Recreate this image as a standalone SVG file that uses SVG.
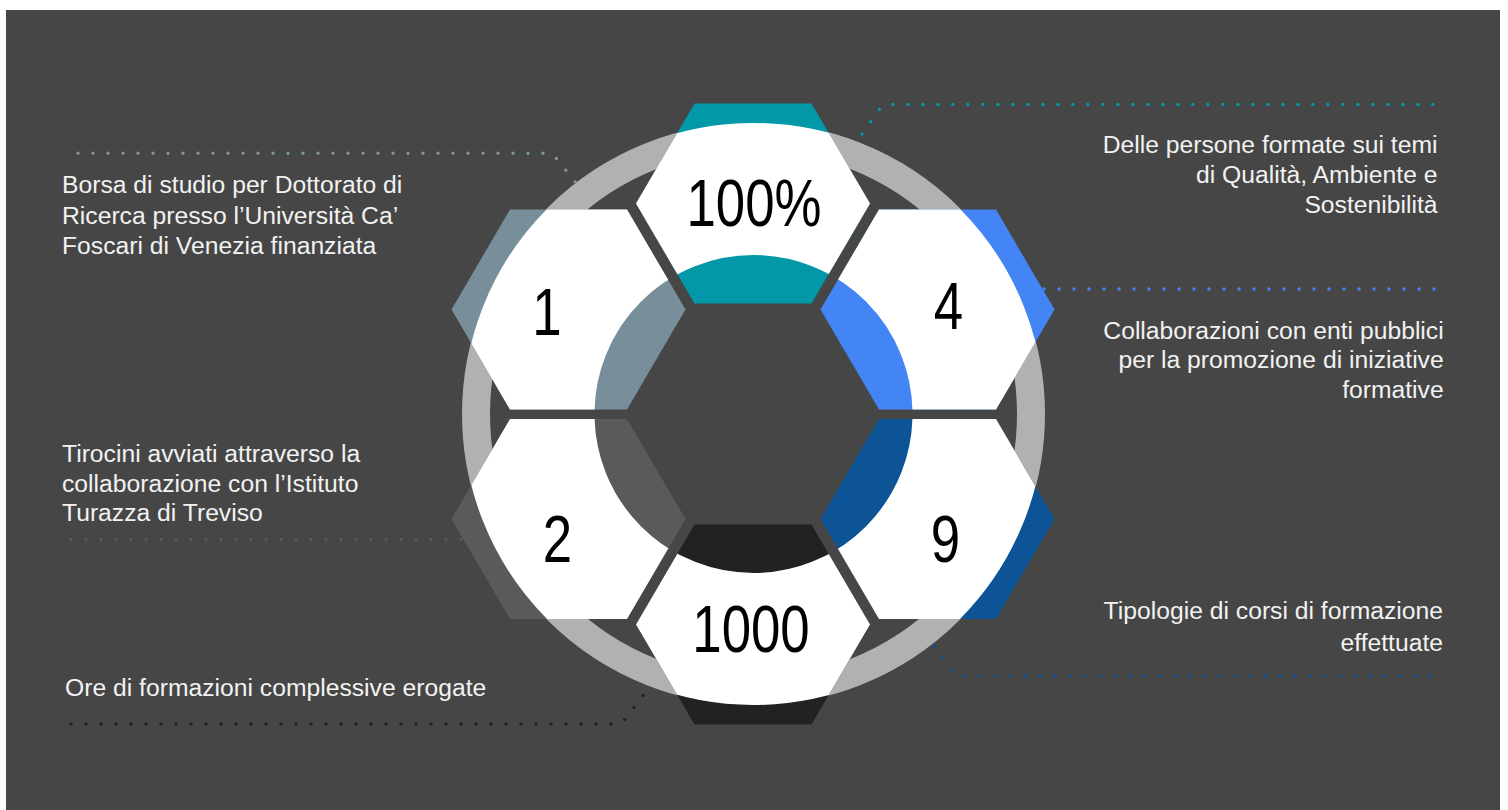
<svg xmlns="http://www.w3.org/2000/svg" xmlns:xlink="http://www.w3.org/1999/xlink" width="1508" height="810" viewBox="0 0 1508 810">
<style>
.lbl{font-family:"Liberation Sans",Arial,sans-serif;font-size:24.7px;fill:#f2f2f2}
.r{text-anchor:end}
.num{font-family:"Liberation Sans",Arial,sans-serif;font-size:66px;fill:#000;text-anchor:middle}
.dot{fill:none;stroke-width:3.4;stroke-linecap:round;stroke-dasharray:0 15}
.band{fill:none;stroke:#ffffff;stroke-width:132}
</style>
<defs>
<polygon id="hx-top" points="636,203.5 694.5,103.5 811.5,103.5 870,203.5 811.5,303.5 694.5,303.5"/>
<polygon id="hx-ul" points="451.5,309.5 510,209.5 627,209.5 685.5,309.5 627,409.5 510,409.5"/>
<polygon id="hx-ur" points="820.5,309.5 879,209.5 996,209.5 1054.5,309.5 996,409.5 879,409.5"/>
<polygon id="hx-ll" points="451.5,519 510,419 627,419 685.5,519 627,619 510,619"/>
<polygon id="hx-lr" points="820.5,519 879,419 996,419 1054.5,519 996,619 879,619"/>
<polygon id="hx-bot" points="636,624.5 694.5,524.5 811.5,524.5 870,624.5 811.5,724.5 694.5,724.5"/>
<clipPath id="c-top"><use xlink:href="#hx-top"/></clipPath>
<clipPath id="c-ul"><use xlink:href="#hx-ul"/></clipPath>
<clipPath id="c-ur"><use xlink:href="#hx-ur"/></clipPath>
<clipPath id="c-ll"><use xlink:href="#hx-ll"/></clipPath>
<clipPath id="c-lr"><use xlink:href="#hx-lr"/></clipPath>
<clipPath id="c-bot"><use xlink:href="#hx-bot"/></clipPath>
</defs>
<rect x="0" y="0" width="1508" height="810" fill="#ffffff"/>
<rect x="6" y="10" width="1494" height="800" fill="#464646"/>
<circle id="ring" cx="753.5" cy="414" r="277.5" fill="none" stroke="#b1b1b1" stroke-width="28"/>
<g id="connectors">
<path class="dot" stroke="#7a96a3" d="M78,153.3 L546,153.3 Q552,153.3 556,158 L577,184"/>
<path class="dot" stroke="#0398a8" d="M862,134 L879,110 Q883,104.5 890,104.5 L1436,104.5"/>
<path class="dot" stroke="#4385f5" d="M1044,289 L1436,289"/>
<path class="dot" stroke="#5a5a5a" d="M71,539.5 L465,539.5"/>
<path class="dot" stroke="#222222" d="M71,724 L614,724 Q621,724 626,718 L644,694"/>
<path class="dot" stroke="#0d5496" d="M934,646 L951,669 Q956,676 963,676 L1436,676"/>
</g>
<g id="node-100">
<use xlink:href="#hx-top" fill="#0398a8"/>
<circle class="band" cx="753.5" cy="414" r="225" clip-path="url(#c-top)"/>
<text class="num" transform="translate(754,226) scale(0.8,1)">100%</text>
</g>
<g id="node-1">
<use xlink:href="#hx-ul" fill="#788f9b"/>
<circle class="band" cx="753.5" cy="414" r="225" clip-path="url(#c-ul)"/>
<text class="num" transform="translate(547,335) scale(0.8,1)">1</text>
</g>
<g id="node-4">
<use xlink:href="#hx-ur" fill="#4385f5"/>
<circle class="band" cx="753.5" cy="414" r="225" clip-path="url(#c-ur)"/>
<text class="num" transform="translate(948.5,329) scale(0.8,1)">4</text>
</g>
<g id="node-2">
<use xlink:href="#hx-ll" fill="#5a5a5a"/>
<circle class="band" cx="753.5" cy="414" r="225" clip-path="url(#c-ll)"/>
<text class="num" transform="translate(557.5,562) scale(0.8,1)">2</text>
</g>
<g id="node-9">
<use xlink:href="#hx-lr" fill="#0d5496"/>
<circle class="band" cx="753.5" cy="414" r="225" clip-path="url(#c-lr)"/>
<text class="num" transform="translate(945.5,562) scale(0.8,1)">9</text>
</g>
<g id="node-1000">
<use xlink:href="#hx-bot" fill="#222222"/>
<circle class="band" cx="753.5" cy="414" r="225" clip-path="url(#c-bot)"/>
<text class="num" transform="translate(751,652) scale(0.8,1)">1000</text>
</g>
<g id="label-borsa">
<text class="lbl" x="62" y="193">Borsa di studio per Dottorato di</text>
<text class="lbl" x="62" y="223.5">Ricerca presso l’Università Ca’</text>
<text class="lbl" x="62" y="253.5">Foscari di Venezia finanziata</text>
</g>
<g id="label-tirocini">
<text class="lbl" x="62" y="462.3">Tirocini avviati attraverso la</text>
<text class="lbl" x="62" y="491.7">collaborazione con l’Istituto</text>
<text class="lbl" x="62" y="521">Turazza di Treviso</text>
</g>
<g id="label-ore">
<text class="lbl" x="65" y="696">Ore di formazioni complessive erogate</text>
</g>
<g id="label-persone">
<text class="lbl r" x="1437.5" y="153.3">Delle persone formate sui temi</text>
<text class="lbl r" x="1437.5" y="183.3">di Qualità, Ambiente e</text>
<text class="lbl r" x="1437.5" y="212.7">Sostenibilità</text>
</g>
<g id="label-collab">
<text class="lbl r" x="1443.7" y="339.3">Collaborazioni con enti pubblici</text>
<text class="lbl r" x="1443.7" y="368.3">per la promozione di iniziative</text>
<text class="lbl r" x="1443.7" y="398.3">formative</text>
</g>
<g id="label-tipologie">
<text class="lbl r" x="1443" y="619.3">Tipologie di corsi di formazione</text>
<text class="lbl r" x="1443" y="651">effettuate</text>
</g>
</svg>
